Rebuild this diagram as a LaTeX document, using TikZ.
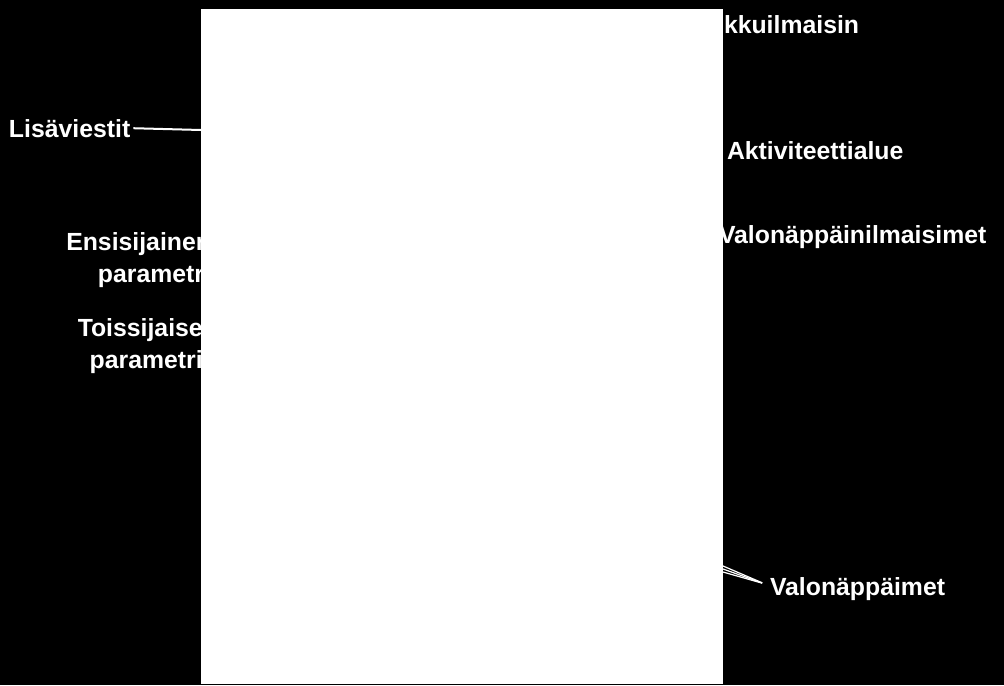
\documentclass[tikz,border=0pt]{standalone}
\usepackage{fontspec}
\setmainfont{Liberation Sans}
\usetikzlibrary{positioning}

\begin{document}
\begin{tikzpicture}[x=0.5pt,y=-0.5pt]
\tikzset{callout/.style ={text=white,font=\bfseries\fontsize{12.4}{16}\selectfont,inner sep=0pt,outer sep=0pt},
         leader/.style ={draw=white,line width=1pt,shorten <=1.5pt}}
\fill[black] (0,0) rectangle (1004,685);
% labels round the screen
\node[callout,anchor=base west] (lock) at (724,33) {kkuilmaisin};
\node[callout,anchor=base west] (messages) at (9,137) {Lisäviestit};
\node[callout,anchor=base west] (activity) at (727,159) {Aktiviteettialue};
\node[callout,anchor=base west] (indicators) at (719,243) {Valonäppäinilmaisimet};
\node[callout,align=right,anchor=east] (primary) at (211,260) {Ensisijainen\\parametr\phantom{i}};
\node[callout,align=right,anchor=east] (secondary) at (211,346) {Toissijaise\phantom{t}\\parametri\phantom{t}};
\node[callout,anchor=base west] (keys) at (770,595) {Valonäppäimet};
% leader lines
\coordinate (msgend) at (201,130);
\draw[leader] (messages.east) -- (msgend);
\coordinate (keyjoin) at (765,584);
\foreach \y [count=\i] in {566,569,572} {
  \coordinate (key\i) at (723,\y);
  \draw[leader,line width=0.6pt] (keyjoin) -- (key\i);
}
% screen
\fill[white] (201,9) rectangle (723,684);
\end{tikzpicture}
\end{document}
